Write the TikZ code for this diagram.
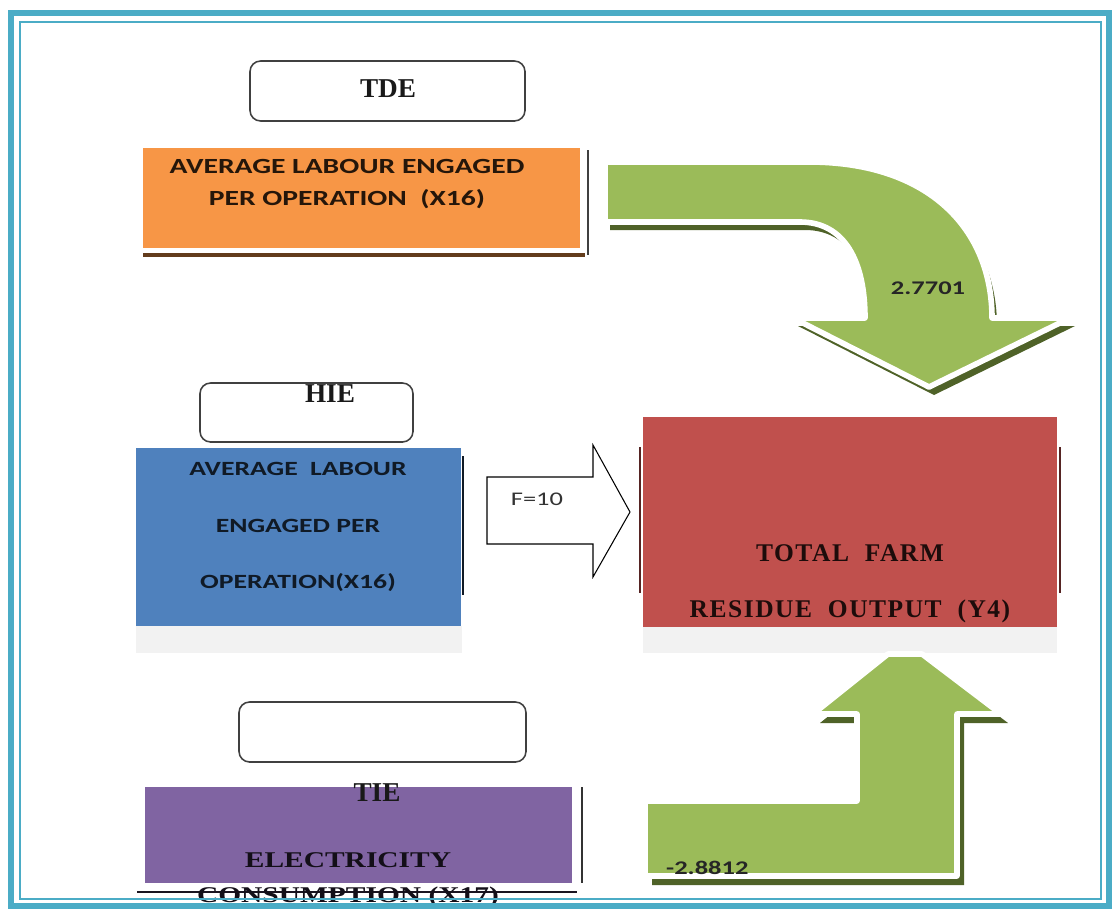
\documentclass[tikz,border=0pt]{standalone}
\usepackage{fontspec}
\setmainfont{Liberation Serif}
\newfontfamily\widesans[FakeStretch=1.37]{Carlito}
\newfontfamily\wideserif[FakeStretch=1.31]{Liberation Serif}
\newfontfamily\spacedserif[LetterSpace=6]{Liberation Serif}
\definecolor{framecol}{HTML}{4BACC6}
\definecolor{orangefill}{HTML}{F79646}
\definecolor{bluefill}{HTML}{4F81BD}
\definecolor{redfill}{HTML}{C0504D}
\definecolor{purplefill}{HTML}{8064A2}
\definecolor{greenfill}{HTML}{9BBB59}
\definecolor{greenshadow}{HTML}{4F6228}
\definecolor{bandgray}{HTML}{F2F2F2}
\usetikzlibrary{positioning,calc}

\begin{document}
\begin{tikzpicture}[x=0.02cm,y=-0.02cm,
    tagbox/.style={draw=black!75,line width=0.9pt,rounded corners=6pt},
    tagtext/.style={font=\bfseries\fontsize{15.5}{18}\selectfont,text=black!90},
    bigarrow/.style={fill=greenfill,draw=white,line width=3.2pt,line join=round},
    arrowshade/.style={fill=greenshadow},
    valtext/.style={font=\widesans\bfseries\fontsize{11}{13}\selectfont,text=black!85}]
      \useasboundingbox (0,0) rectangle (1117,913);

      % TDE
      \draw[tagbox] (250,61) rectangle (525,121);
      \node[tagtext] (tde) at (388,89) {TDE};
      \fill[orangefill] (143,148) rectangle (580,248);
      \draw[line width=1.8pt,color=orangefill!40!black] (143,255) -- (585,255);
      \draw[line width=1.1pt,color=black!75] (588,150) -- (588,255);
      \node[align=center,text=black!85!orangefill,
            font=\widesans\bfseries\fontsize{12.3}{18.7}\selectfont] (labourtde) at (347,184)
            {AVERAGE LABOUR ENGAGED\\PER OPERATION~~(X16)};

      \fill[arrowshade,shift={(5,8)}] (605,162) -- (809,162) .. controls (930,162) and (992,230) .. (992,318)
        -- (1070,318) -- (929,387) -- (793,318) -- (865,318)
        .. controls (865,262) and (845,222) .. (800,222) -- (605,222) -- cycle;
      \draw[bigarrow] (605,162) -- (809,162) .. controls (930,162) and (992,230) .. (992,318)
        -- (1070,318) -- (929,387) -- (793,318) -- (865,318)
        .. controls (865,262) and (845,222) .. (800,222) -- (605,222) -- cycle;
      \node[valtext] (tdevalue) at (928,288) {2.7701};

      % HIE
      \draw[tagbox] (200,383) rectangle (413,442);
      \node[tagtext] (hie) at (330,394) {HIE};
      \fill[bluefill] (136,448) rectangle (461,626);
      \fill[bandgray] (136,626) rectangle (462,653);
      \draw[line width=1.1pt,color=black!80!bluefill] (463,456) -- (463,595);
      \node[align=center,text=black!80!bluefill,
            font=\widesans\bfseries\fontsize{11.5}{32}\selectfont] (labourhie) at (298,527)
            {AVERAGE~~LABOUR\\ENGAGED PER\\OPERATION(X16)};

      \draw[fill=white,line width=0.6pt] (487,477) -- (593,477) -- (593,445) -- (630,512)
        -- (593,577) -- (593,544) -- (487,544) -- cycle;
      \node[font=\widesans\fontsize{11}{13}\selectfont,text=black!80] (fvalue) at (537,499) {F=10};

      % output
      \fill[redfill] (643,417) rectangle (1057,627);
      \fill[bandgray] (643,627) rectangle (1057,653);
      \draw[line width=1.1pt,color=redfill!45!black] (640,447) -- (640,593);
      \draw[line width=1.1pt,color=redfill!45!black] (1060,447) -- (1060,593);
      \node[align=center,text=black!85!redfill,
            font=\spacedserif\bfseries\fontsize{14.5}{32}\selectfont] (output) at (850,584)
            {TOTAL~~FARM\\RESIDUE~~OUTPUT~~(Y4)};

      % TIE
      \draw[tagbox] (239,702) rectangle (526,762);
      \fill[purplefill] (145,787) rectangle (572,883);
      \draw[line width=1.1pt,color=black!80] (582,787) -- (582,883);
      \draw[line width=1.5pt,color=black!80!purplefill] (137,892) -- (577,892);
      \node[tagtext] (tie) at (377,793) {TIE};
      \node[align=center,text=black!85!purplefill,
            font=\wideserif\bfseries\fontsize{12.8}{20.4}\selectfont] (electricity) at (348,880)
            {ELECTRICITY\\CONSUMPTION (X17)};

      \fill[arrowshade,shift={(7,9)}] (645,801) -- (857,801) -- (857,714) -- (813,714) -- (888,654)
        -- (922,654) -- (1001,714) -- (957,714) -- (957,876) -- (645,876) -- cycle;
      \draw[bigarrow] (645,801) -- (857,801) -- (857,714) -- (813,714) -- (888,654)
        -- (922,654) -- (1001,714) -- (957,714) -- (957,876) -- (645,876) -- cycle;
      \node[valtext,anchor=west] (tievalue) at (660,868) {-2.8812};

      % frame
      \draw[framecol,line width=3.5pt] (11,13) rectangle (1109,906);
      \draw[framecol,line width=1.4pt] (20,22) rectangle (1101,899);
\end{tikzpicture}
\end{document}
